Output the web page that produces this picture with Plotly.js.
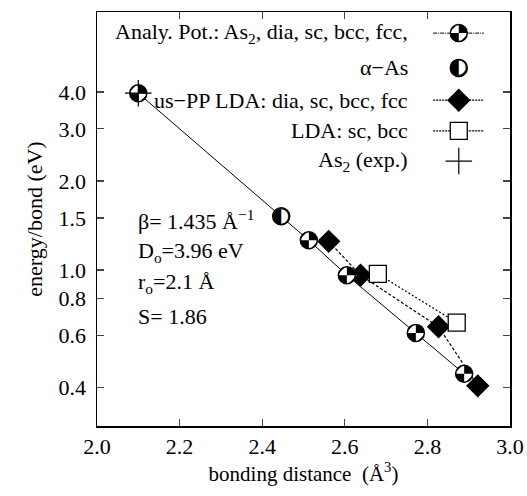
<!DOCTYPE html>
<html><head><meta charset="utf-8">
<script src="https://cdn.plot.ly/plotly-3.0.1.min.js"></script>
<style>html,body{margin:0;padding:0;background:#fff}#chart{width:527px;height:496px}</style>
</head><body><div id="chart"></div>
<script>
// ---------- data ----------
const analyLabels = ['As2', 'dia', 'sc', 'bcc', 'fcc'];
const analyX = [2.10, 2.513, 2.605, 2.772, 2.889];
const analyY = [3.96, 1.26, 0.96, 0.613, 0.446];
const alphaX = [2.446];
const alphaY = [1.52];
const usppLabels = ['dia', 'sc', 'bcc', 'fcc'];
const usppX = [2.561, 2.638, 2.827, 2.922];
const usppY = [1.25, 0.96, 0.643, 0.406];
const ldaLabels = ['sc', 'bcc'];
const ldaX = [2.68, 2.871];
const ldaY = [0.97, 0.664];
const expX = [2.10];
const expY = [3.96];
const xTickVals = [2.0, 2.2, 2.4, 2.6, 2.8, 3.0];
const xTickText = ['2.0', '2.2', '2.4', '2.6', '2.8', '3.0'];
const yTickVals = [0.4, 0.6, 0.8, 1.0, 1.5, 2.0, 3.0, 4.0];
const yTickText = ['0.4', '0.6', '0.8', '1.0', '1.5', '2.0', '3.0', '4.0'];
const legendLabels = ['Analy. Pot.: As<sub>2</sub>, dia, sc, bcc, fcc,', 'α−As',
  'us−PP LDA: dia, sc, bcc, fcc', 'LDA: sc, bcc', 'As<sub>2</sub> (exp.)'];
const paramLabels = ['β= 1.435 Å<sup>−1</sup>', 'D<sub>o</sub>=3.96 eV', 'r<sub>o</sub>=2.1 Å', 'S= 1.86'];

// ---------- styling / layout constants ----------
const FONT = 'Liberation Serif, Times New Roman, serif';
const FS = 22;
const legRowsY = [0.949, 0.865, 0.787, 0.713, 0.640];
const legLineX = [0.814, 0.937];
const legMarkX = 0.876;
const legTextX = 0.758;
const paramX = 0.094;
const paramY = [0.498, 0.421, 0.345, 0.264];
const CIRC = 17, DIAM = 18, SQR = 17, CROSS = 19;

function quartered(x, y, xa, ya, s) {
  return [
    {x: x, y: y, xaxis: xa, yaxis: ya, mode: 'markers', hoverinfo: 'skip',
     marker: {symbol: 'circle', size: s, color: '#000', line: {width: 0}}},
    {x: x, y: y, xaxis: xa, yaxis: ya, mode: 'markers', hoverinfo: 'skip',
     marker: {symbol: 'bowtie', angle: 45, size: s * 0.84, color: '#fff', line: {width: 0}}},
    {x: x, y: y, xaxis: xa, yaxis: ya, mode: 'markers', hoverinfo: 'skip',
     marker: {symbol: 'circle-open', size: s, color: '#000', line: {width: 1.5, color: '#000'}}}
  ];
}
function halfCircle(x, y, xa, ya, s) {
  return [
    {x: x, y: y, xaxis: xa, yaxis: ya, mode: 'markers', hoverinfo: 'skip',
     marker: {symbol: 'circle', size: s, color: '#fff', line: {width: 1.5, color: '#000'}}},
    {x: x, y: y, xaxis: xa, yaxis: ya, mode: 'text', text: x.map(() => '◐'), hoverinfo: 'skip',
     textposition: 'middle center', textfont: {family: 'DejaVu Sans', size: s * 1.25, color: '#000'}}
  ];
}

const traces = [];
// analytic potential curve
traces.push({x: analyX, y: analyY, text: analyLabels, mode: 'lines', line: {color: '#000', width: 1}, hoverinfo: 'x+y+text'});
// us-PP LDA
traces.push({x: usppX, y: usppY, text: usppLabels, mode: 'lines+markers', line: {color: '#000', width: 1.2, dash: '3px,2px'},
  marker: {symbol: 'diamond', size: DIAM, color: '#000'}});
// LDA
traces.push({x: ldaX, y: ldaY, text: ldaLabels, mode: 'lines+markers', line: {color: '#000', width: 1.2, dash: '2px,2px'},
  marker: {symbol: 'square', size: SQR, color: '#fff', line: {width: 1.3, color: '#000'}}});
// analytic markers
traces.push(...quartered(analyX, analyY, 'x', 'y', CIRC));
// alpha-As
traces.push(...halfCircle(alphaX, alphaY, 'x', 'y', CIRC));
// experimental As2
traces.push({x: expX, y: expY, mode: 'markers', marker: {symbol: 'cross-thin-open', size: CROSS, color: '#000', line: {width: 1.2, color: '#000'}}});

// ---------- legend samples on an overlay axis ----------
const L = (i) => [legRowsY[i], legRowsY[i]];
traces.push({x: legLineX, y: L(0), xaxis: 'x2', yaxis: 'y2', mode: 'lines', line: {color: '#000', width: 1, dash: '4px,1px,1px,1px'}, hoverinfo: 'skip'});
traces.push(...quartered([legMarkX], [legRowsY[0]], 'x2', 'y2', CIRC));
traces.push(...halfCircle([legMarkX], [legRowsY[1]], 'x2', 'y2', CIRC));
traces.push({x: legLineX, y: L(2), xaxis: 'x2', yaxis: 'y2', mode: 'lines', line: {color: '#000', width: 1.2, dash: '2px,1px'}, hoverinfo: 'skip'});
traces.push({x: [legMarkX], y: [legRowsY[2]], xaxis: 'x2', yaxis: 'y2', mode: 'markers', marker: {symbol: 'diamond', size: DIAM, color: '#000'}, hoverinfo: 'skip'});
traces.push({x: legLineX, y: L(3), xaxis: 'x2', yaxis: 'y2', mode: 'lines', line: {color: '#000', width: 1.2, dash: '2px,1px'}, hoverinfo: 'skip'});
traces.push({x: [legMarkX], y: [legRowsY[3]], xaxis: 'x2', yaxis: 'y2', mode: 'markers', marker: {symbol: 'square', size: SQR, color: '#fff', line: {width: 1.3, color: '#000'}}, hoverinfo: 'skip'});
traces.push({x: [legMarkX], y: [legRowsY[4]], xaxis: 'x2', yaxis: 'y2', mode: 'markers', marker: {symbol: 'cross-thin-open', size: CROSS, color: '#000', line: {width: 1.2, color: '#000'}}, hoverinfo: 'skip'});

const annotations = [];
legendLabels.forEach((t, i) => annotations.push({xref: 'paper', yref: 'paper', x: legTextX, y: legRowsY[i], xanchor: 'right', yanchor: 'middle',
  text: t, showarrow: false, font: {family: FONT, size: FS, color: '#000'}}));
paramLabels.forEach((t, i) => annotations.push({xref: 'paper', yref: 'paper', x: paramX, y: paramY[i], xanchor: 'left', yanchor: 'middle',
  text: t, showarrow: false, font: {family: FONT, size: FS, color: '#000'}}));

const layout = {
  width: 527, height: 496,
  margin: {l: 97, r: 17, t: 12, b: 70},
  paper_bgcolor: '#fff', plot_bgcolor: '#fff',
  showlegend: false,
  font: {family: FONT, size: FS, color: '#000'},
  xaxis: {range: [2.0, 3.0], tickvals: xTickVals, ticktext: xTickText, ticks: 'inside', ticklen: 7, tickwidth: 1.2,
    showline: true, linewidth: 1.5, linecolor: '#000', mirror: 'ticks', showgrid: false, zeroline: false,
    tickfont: {family: FONT, size: FS}, title: {text: 'bonding distance  (Å<sup>3</sup>)', font: {family: FONT, size: 21}, standoff: 4}},
  yaxis: {type: 'log', range: [Math.log10(0.297), Math.log10(7.45)], tickvals: yTickVals, ticktext: yTickText, ticks: 'inside', ticklen: 7, tickwidth: 1.2,
    showline: true, linewidth: 1.5, linecolor: '#000', mirror: 'ticks', showgrid: false, zeroline: false, ticklabelstandoff: 5,
    tickfont: {family: FONT, size: FS}, title: {text: 'energy/bond (eV)', font: {family: FONT, size: FS}, standoff: 10}},
  xaxis2: {overlaying: 'x', range: [0, 1], visible: false, anchor: 'y2'},
  yaxis2: {overlaying: 'y', range: [0, 1], visible: false, anchor: 'x2'},
  annotations: annotations
};
Plotly.newPlot('chart', traces, layout, {staticPlot: true});
</script>
</body></html>
